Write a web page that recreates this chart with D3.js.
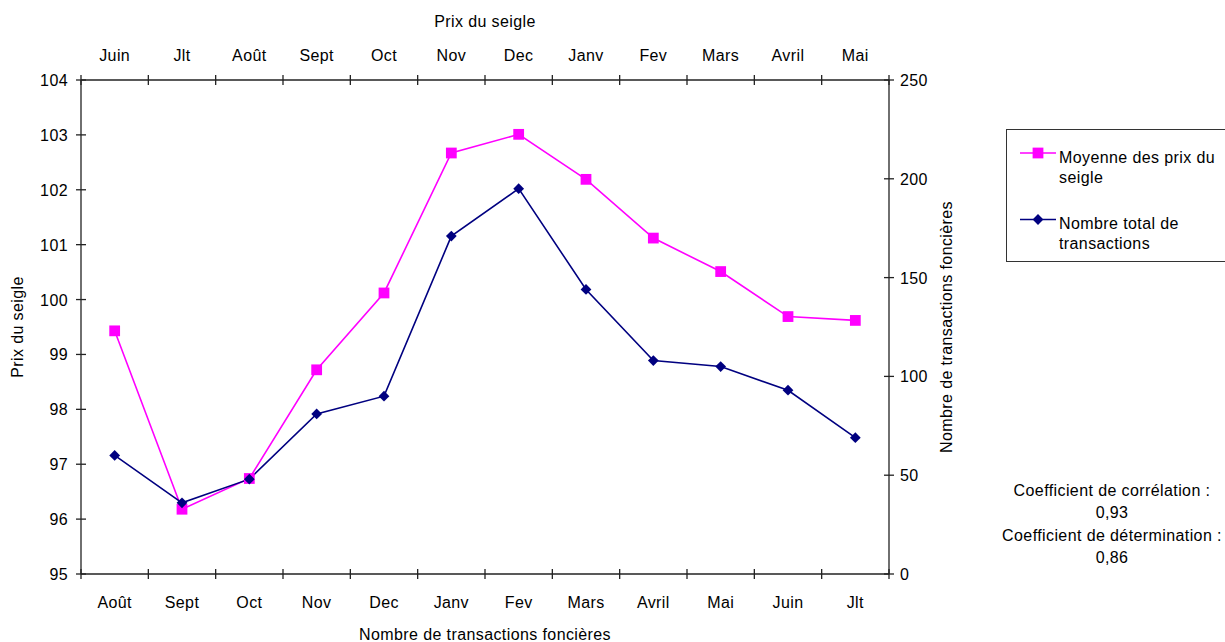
<!DOCTYPE html>
<html><head><meta charset="utf-8">
<script src="https://cdn.jsdelivr.net/npm/d3@7"></script>
<style>body{margin:0;background:#fff;} svg{display:block;font-family:"Liberation Sans",Arial,sans-serif;letter-spacing:0.4px;}</style>
</head><body>
<script>
const topCategories = ["Juin","Jlt","Août","Sept","Oct","Nov","Dec","Janv","Fev","Mars","Avril","Mai"];
const bottomCategories = ["Août","Sept","Oct","Nov","Dec","Janv","Fev","Mars","Avril","Mai","Juin","Jlt"];
const prixSeigle = [99.43,96.18,96.74,98.72,100.12,102.67,103.01,102.19,101.12,100.51,99.69,99.62];
const transactions = [60,36,48,81,90,171,195,144,108,105,93,69];
const leftTicks = [95,96,97,98,99,100,101,102,103,104];
const rightTicks = [0,50,100,150,200,250];
const seriesNames = ["Moyenne des prix du|seigle","Nombre total de|transactions"];
const statsLines = ["Coefficient de corrélation :","0,93","Coefficient de détermination :","0,86"];

const W=1225,H=642;
const L=81,R=889,T=80,B=574;
const svg=d3.select("body").append("svg").attr("width",W).attr("height",H);
const fs=16;

const xTop=d3.scaleBand().domain(topCategories).range([L,R]);
const xBot=d3.scaleBand().domain(bottomCategories).range([L,R]);
const yL=d3.scaleLinear().domain([95,104]).range([B,T]);
const yR=d3.scaleLinear().domain([0,250]).range([B,T]);
const axisColor="#222";

const ax=svg.append("g").attr("stroke",axisColor).attr("stroke-width",1.3).attr("fill","none");
ax.append("line").attr("x1",L).attr("x2",R).attr("y1",T).attr("y2",T);
ax.append("line").attr("x1",L).attr("x2",R).attr("y1",B).attr("y2",B);
ax.append("line").attr("x1",L).attr("x2",L).attr("y1",T).attr("y2",B);
ax.append("line").attr("x1",R).attr("x2",R).attr("y1",T).attr("y2",B);

const bounds=d3.range(topCategories.length+1).map(i=>L+i*xTop.step());
bounds.forEach(x=>{
  ax.append("line").attr("x1",x).attr("x2",x).attr("y1",T-5).attr("y2",T+5);
  ax.append("line").attr("x1",x).attr("x2",x).attr("y1",B-5).attr("y2",B+5);
});
leftTicks.forEach(v=>{ax.append("line").attr("x1",L-5).attr("x2",L+5).attr("y1",yL(v)).attr("y2",yL(v));});
rightTicks.forEach(v=>{ax.append("line").attr("x1",R-5).attr("x2",R+5).attr("y1",yR(v)).attr("y2",yR(v));});

const txt=svg.append("g").attr("font-size",fs).attr("fill","#000");
topCategories.forEach(c=>txt.append("text").attr("x",xTop(c)+xTop.bandwidth()/2).attr("y",61).attr("text-anchor","middle").text(c));
bottomCategories.forEach(c=>txt.append("text").attr("x",xBot(c)+xBot.bandwidth()/2).attr("y",608).attr("text-anchor","middle").text(c));
leftTicks.forEach(v=>txt.append("text").attr("x",68).attr("y",yL(v)+6).attr("text-anchor","end").text(v));
rightTicks.forEach(v=>txt.append("text").attr("x",900).attr("y",yR(v)+6).attr("text-anchor","start").text(v));

txt.append("text").attr("x",(L+R)/2).attr("y",27).attr("text-anchor","middle").text("Prix du seigle");
txt.append("text").attr("x",(L+R)/2).attr("y",640).attr("text-anchor","middle").text("Nombre de transactions foncières");
txt.append("text").attr("transform",`translate(23,${(T+B)/2}) rotate(-90)`).attr("text-anchor","middle").text("Prix du seigle");
txt.append("text").attr("transform",`translate(952,${(T+B)/2}) rotate(-90)`).attr("text-anchor","middle").text("Nombre de transactions foncières");

const pink="#FF00FF", navy="#000080";
const cx=i=>xTop(topCategories[i])+xTop.bandwidth()/2;
const line1=d3.line().x((d,i)=>cx(i)).y(d=>yL(d));
const line2=d3.line().x((d,i)=>cx(i)).y(d=>yR(d));
svg.append("path").attr("d",line1(prixSeigle)).attr("fill","none").attr("stroke",pink).attr("stroke-width",1.6);
svg.append("path").attr("d",line2(transactions)).attr("fill","none").attr("stroke",navy).attr("stroke-width",1.6);
const sq=d3.symbol().type(d3.symbolSquare).size(116);
const di=d3.symbol().type(d3.symbolSquare).size(58);
svg.append("g").selectAll("path").data(prixSeigle).join("path").attr("d",sq).attr("transform",(d,i)=>`translate(${cx(i)},${yL(d)})`).attr("fill",pink);
svg.append("g").selectAll("path").data(transactions).join("path").attr("d",di).attr("transform",(d,i)=>`translate(${cx(i)},${yR(d)}) rotate(45)`).attr("fill",navy);

const lg=svg.append("g");
lg.append("rect").attr("x",1006.5).attr("y",129.5).attr("width",230).attr("height",132).attr("fill","#fff").attr("stroke","#333").attr("stroke-width",1);
const items=[{name:seriesNames[0],color:pink,y:153,type:"sq"},{name:seriesNames[1],color:navy,y:219.5,type:"di"}];
items.forEach(it=>{
  lg.append("line").attr("x1",1020).attr("x2",1056).attr("y1",it.y).attr("y2",it.y).attr("stroke",it.color).attr("stroke-width",1.6);
  if(it.type==="sq") lg.append("path").attr("d",sq).attr("transform",`translate(1038,${it.y})`).attr("fill",it.color);
  else lg.append("path").attr("d",di).attr("transform",`translate(1038,${it.y}) rotate(45)`).attr("fill",it.color);
  it.name.split("|").forEach((t,k)=>lg.append("text").attr("x",1059).attr("y",it.y+9.5+k*20).attr("font-size",fs).text(t));
});

statsLines.forEach((t,k)=>txt.append("text").attr("x",1112).attr("y",496+k*22.4).attr("text-anchor","middle").text(t));
</script>
</body></html>
